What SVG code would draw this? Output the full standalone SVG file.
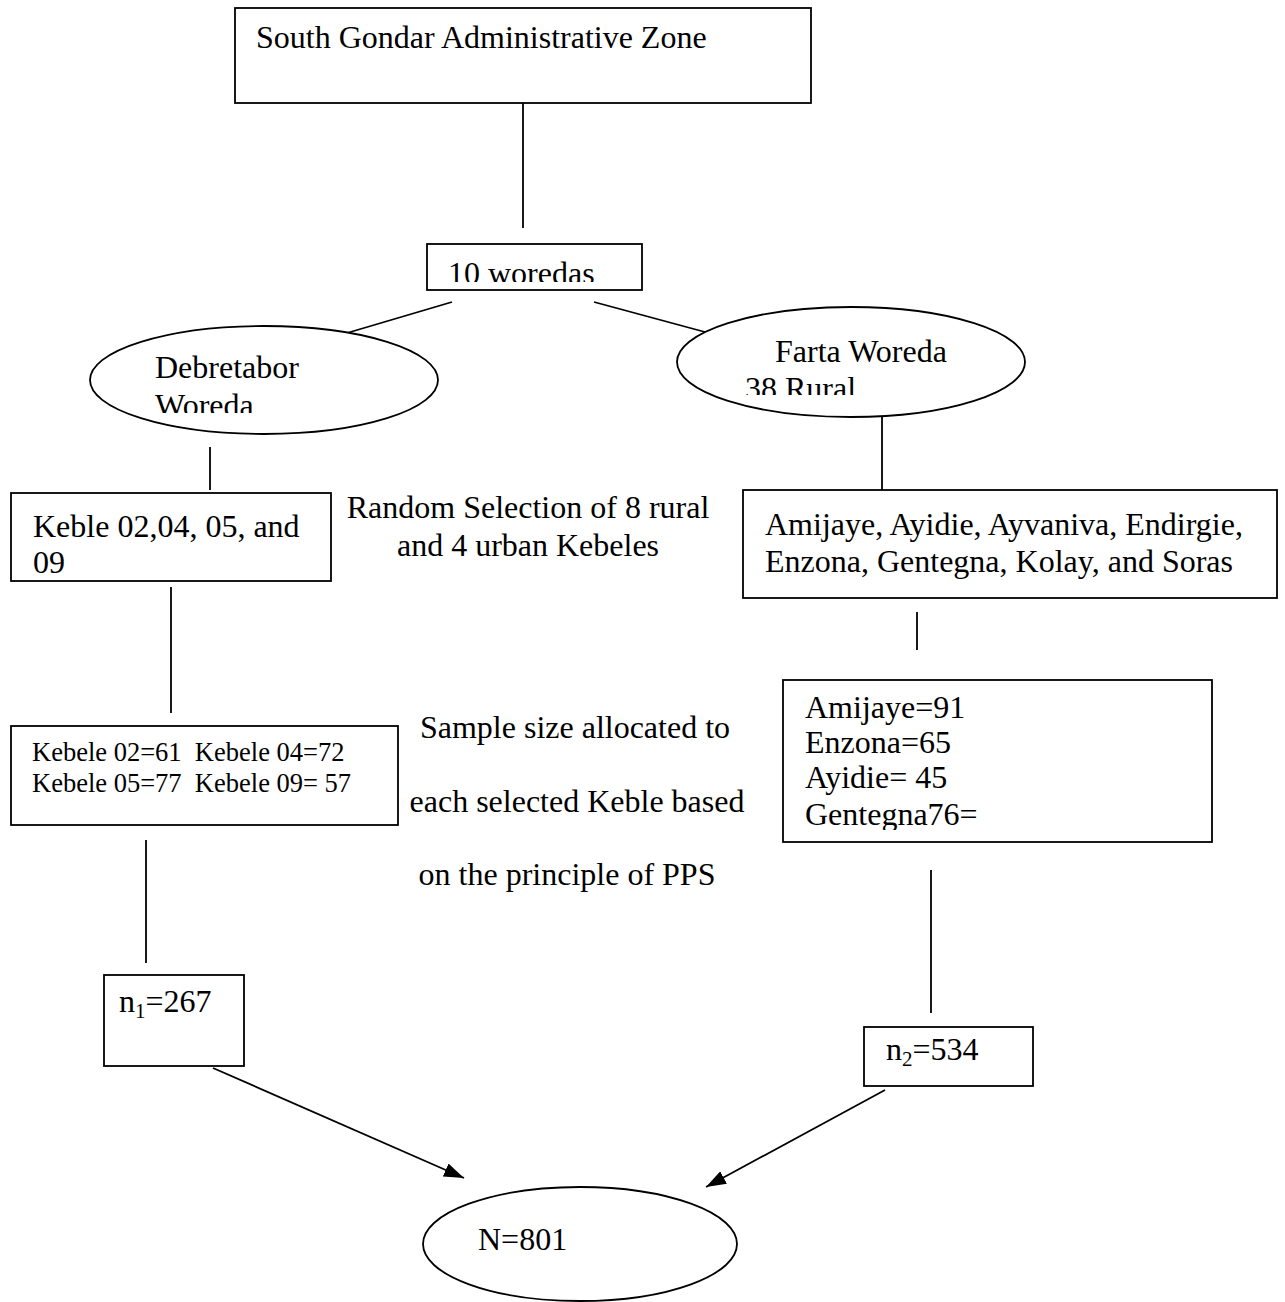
<svg xmlns="http://www.w3.org/2000/svg" width="1285" height="1302" viewBox="0 0 1285 1302">
<style>
.box{fill:#fff;stroke:#000;stroke-width:1.8}
.ln{fill:none;stroke:#000;stroke-width:1.8}
text{font-family:"Liberation Serif","Times New Roman",serif;font-size:32px;fill:#000}
.sm{font-size:26.5px;white-space:pre}
</style>
<defs>
<marker id="ah" viewBox="0 0 20 14" refX="20" refY="7" markerWidth="20" markerHeight="14" markerUnits="userSpaceOnUse" orient="auto">
<path d="M0,0 L20,7 L0,14 Z" fill="#000"/>
</marker>
<clipPath id="c-woredas"><rect x="427" y="244" width="215" height="38"/></clipPath>
<clipPath id="c-debre"><rect x="90" y="326" width="348" height="87"/></clipPath>
<clipPath id="c-farta"><rect x="677" y="307" width="348" height="88"/></clipPath>
<clipPath id="c-amij"><rect x="783" y="680" width="429" height="150"/></clipPath>
</defs>
<rect width="1285" height="1302" fill="#fff"/>
<g id="connectors">
<line class="ln" x1="523" y1="103" x2="523" y2="228"/>
<line class="ln" x1="452" y1="302" x2="347" y2="333"/>
<line class="ln" x1="594" y1="302" x2="705" y2="332"/>
<line class="ln" x1="210" y1="447" x2="210" y2="490"/>
<line class="ln" x1="882" y1="417" x2="882" y2="490"/>
<line class="ln" x1="171" y1="587" x2="171" y2="713"/>
<line class="ln" x1="917" y1="612" x2="917" y2="650"/>
<line class="ln" x1="146" y1="840" x2="146" y2="963"/>
<line class="ln" x1="931" y1="870" x2="931" y2="1013"/>
<line class="ln" x1="213" y1="1068" x2="464" y2="1178" marker-end="url(#ah)"/>
<line class="ln" x1="885" y1="1090" x2="706" y2="1187" marker-end="url(#ah)"/>
</g>
<g id="zone">
<rect class="box" x="235" y="8" width="576" height="95"/>
<text x="256" y="48">South Gondar Administrative Zone</text>
</g>
<g id="woredas">
<rect class="box" x="427" y="244" width="215" height="46"/>
<text x="448" y="284" clip-path="url(#c-woredas)">10 woredas</text>
</g>
<g id="debretabor">
<ellipse class="box" cx="264" cy="380" rx="174" ry="54"/>
<g clip-path="url(#c-debre)">
<text x="155" y="378">Debretabor</text>
<text x="155" y="416">Woreda</text>
</g>
</g>
<g id="farta">
<ellipse class="box" cx="851" cy="362" rx="174" ry="55"/>
<g clip-path="url(#c-farta)">
<text x="775" y="362">Farta Woreda</text>
<text x="745" y="399">38 Rural</text>
</g>
</g>
<g id="keble-left">
<rect class="box" x="11" y="493" width="320" height="88"/>
<text x="33" y="537">Keble 02,04, 05, and</text>
<text x="33" y="573">09</text>
</g>
<g id="random-label">
<text x="528" y="518" text-anchor="middle">Random Selection of 8 rural</text>
<text x="528" y="556" text-anchor="middle">and 4 urban Kebeles</text>
</g>
<g id="keble-right">
<rect class="box" x="743" y="490" width="534" height="108"/>
<text x="765" y="535">Amijaye, Ayidie, Ayvaniva, Endirgie,</text>
<text x="765" y="572">Enzona, Gentegna, Kolay, and Soras</text>
</g>
<g id="kebele-samples">
<rect class="box" x="11" y="726" width="387" height="99"/>
<text class="sm" x="32" y="761" xml:space="preserve">Kebele 02=61  Kebele 04=72</text>
<text class="sm" x="32" y="792" xml:space="preserve">Kebele 05=77  Kebele 09= 57</text>
</g>
<g id="sample-label">
<text x="575" y="738" text-anchor="middle">Sample size allocated to</text>
<text x="577" y="812" text-anchor="middle">each selected Keble based</text>
<text x="567" y="885" text-anchor="middle">on the principle of PPS</text>
</g>
<g id="farta-samples">
<rect class="box" x="783" y="680" width="429" height="162"/>
<g clip-path="url(#c-amij)">
<text x="805" y="718">Amijaye=91</text>
<text x="805" y="753">Enzona=65</text>
<text x="805" y="788">Ayidie= 45</text>
<text x="805" y="825">Gentegna76=</text>
</g>
</g>
<g id="n1">
<rect class="box" x="104" y="975" width="140" height="91"/>
<text x="119" y="1012">n<tspan font-size="21" dy="6">1</tspan><tspan dy="-6">=267</tspan></text>
</g>
<g id="n2">
<rect class="box" x="864" y="1027" width="169" height="59"/>
<text x="886" y="1060">n<tspan font-size="21" dy="6">2</tspan><tspan dy="-6">=534</tspan></text>
</g>
<g id="total">
<ellipse class="box" cx="580" cy="1244" rx="157" ry="57"/>
<text x="478" y="1250">N=801</text>
</g>
</svg>
